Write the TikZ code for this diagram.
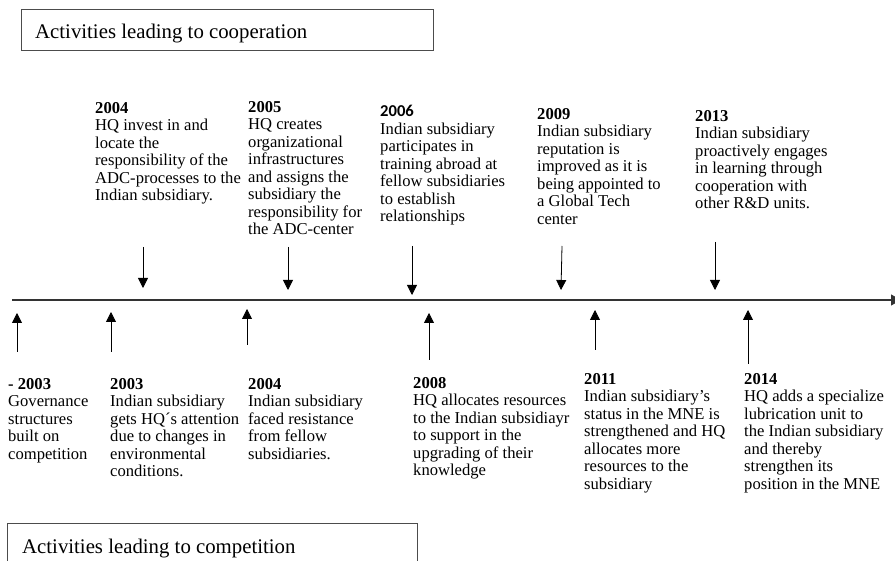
\documentclass[tikz,border=0pt]{standalone}
\usepackage{fontspec}
\setmainfont{Liberation Serif}
\newfontfamily\yearsans{Carlito}
\usetikzlibrary{arrows.meta}

\begin{document}
\begin{tikzpicture}[
    x=1pt, y=-1pt,
    % Styles
    event/.style={anchor=north west, inner sep=0pt, align=left,
        font=\fontsize{16.6}{17.5}\selectfont},
    title/.style={anchor=base west, inner sep=0pt,
        font=\fontsize{20.8}{24}\selectfont},
    frame/.style={draw, line width=0.8pt, black!70, anchor=north west,
        inner sep=0pt},
    tick/.style={-{Triangle[width=10pt,length=10pt]}, line width=0.8pt},
    timeline/.style={-{Triangle[width=11pt,length=10pt]}, line width=1.2pt,
        black!80},
]
\useasboundingbox (0,0) rectangle (895,561);

% ===== Headings =====
\node[frame, minimum width=412pt, minimum height=41pt] (coopbox) at (21,9) {};
\node[title] (cooptitle) at (35,39) {Activities leading to cooperation};

\node[frame, minimum width=410pt, minimum height=60pt] (compbox) at (7,523) {};
\node[title] (comptitle) at (22,553) {Activities leading to competition};

% ===== Timeline =====
\coordinate (tlstart) at (12,300);
\coordinate (tlend) at (901,300);
\draw[timeline] (tlstart) -- (tlend);

% ===== Cooperation events (above) =====
\node[event] (c2004) at (95,102)
    {\textbf{2004}\\HQ invest in and\\locate the\\responsibility of the\\
     ADC-processes to the\\Indian subsidiary.};
\node[event] (c2005) at (248,101)
    {\textbf{2005}\\HQ creates\\organizational\\infrastructures\\
     and assigns the\\subsidiary the\\responsibility for\\the ADC-center};
\node[event] (c2006) at (380,105)
    {{\yearsans\bfseries 2006}\\Indian subsidiary\\participates in\\
     training abroad at\\fellow subsidiaries\\to establish\\relationships};
\node[event] (c2009) at (537,108)
    {\textbf{2009}\\Indian subsidiary\\reputation is\\improved as it is\\
     being appointed to\\a Global Tech\\center};
\node[event] (c2013) at (695,110)
    {\textbf{2013}\\Indian subsidiary\\proactively engages\\
     in learning through\\cooperation with\\other R\&D units.};

% arrows down to the timeline
\coordinate (c2004a) at (143,247); \coordinate (c2004b) at (143,288);
\coordinate (c2005a) at (288,247); \coordinate (c2005b) at (288,290);
\coordinate (c2006a) at (412,246); \coordinate (c2006b) at (412,295);
\coordinate (c2009a) at (562,246); \coordinate (c2009b) at (561,290);
\coordinate (c2013a) at (715,242); \coordinate (c2013b) at (715,290);
\draw[tick] (c2004a) -- (c2004b);
\draw[tick] (c2005a) -- (c2005b);
\draw[tick] (c2006a) -- (c2006b);
\draw[tick] (c2009a) -- (c2009b);
\draw[tick] (c2013a) -- (c2013b);

% ===== Competition events (below) =====
\node[event] (k2003a) at (8,378)
    {\textbf{- 2003}\\Governance\\structures\\built on\\competition};
\node[event] (k2003) at (110,378)
    {\textbf{2003}\\Indian subsidiary\\gets HQ´s attention\\
     due to changes in\\environmental\\conditions.};
\node[event] (k2004) at (248,378)
    {\textbf{2004}\\Indian subsidiary\\faced resistance\\from fellow\\
     subsidiaries.};
\node[event] (k2008) at (413,377)
    {\textbf{2008}\\HQ allocates resources\\to the Indian subsidiayr\\
     to support in the\\upgrading of their\\knowledge};
\node[event] (k2011) at (584,373)
    {\textbf{2011}\\Indian subsidiary’s\\status in the MNE is\\
     strengthened and HQ\\allocates more\\resources to the\\subsidiary};
\node[event] (k2014) at (744,373)
    {\textbf{2014}\\HQ adds a specialize\\lubrication unit to\\
     the Indian subsidiary\\and thereby\\strengthen its\\position in the MNE};

% arrows up to the timeline
\coordinate (k2003aa) at (17,352);  \coordinate (k2003ab) at (17,313);
\coordinate (k2003x) at (111,352);  \coordinate (k2003y) at (111,312);
\coordinate (k2004a) at (247,345);  \coordinate (k2004b) at (247,309);
\coordinate (k2008a) at (429,360);  \coordinate (k2008b) at (429,313);
\coordinate (k2011a) at (595,350);  \coordinate (k2011b) at (595,310);
\coordinate (k2014a) at (748,364);  \coordinate (k2014b) at (748,310);
\draw[tick] (k2003aa) -- (k2003ab);
\draw[tick] (k2003x) -- (k2003y);
\draw[tick] (k2004a) -- (k2004b);
\draw[tick] (k2008a) -- (k2008b);
\draw[tick] (k2011a) -- (k2011b);
\draw[tick] (k2014a) -- (k2014b);

\end{tikzpicture}
\end{document}
